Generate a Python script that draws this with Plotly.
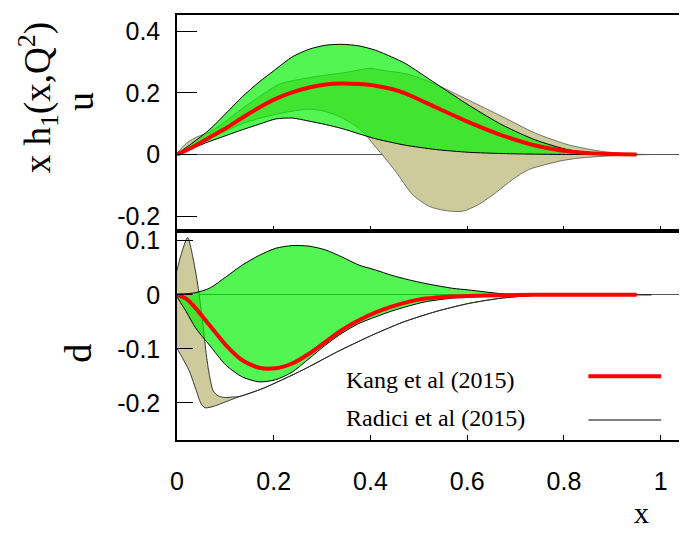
import plotly.graph_objects as go

# ---------------- data ----------------
# u quark, Kang et al (2015): band + central curve
kang_u_x = [0, 0.03, 0.067, 0.101, 0.135, 0.17, 0.204, 0.238, 0.273, 0.307, 0.341, 0.376,
            0.41, 0.444, 0.472, 0.535, 0.603, 0.672, 0.741, 0.81, 0.878, 0.95]
kang_u_hi = [0, 0.035, 0.08, 0.133, 0.187, 0.235, 0.276, 0.316, 0.341, 0.354, 0.357, 0.352,
             0.338, 0.316, 0.295, 0.23, 0.16, 0.096, 0.047, 0.015, 0.004, 0]
kang_u_mid = [0, 0.022, 0.055, 0.085, 0.119, 0.152, 0.18, 0.201, 0.217, 0.227, 0.23, 0.228,
              0.223, 0.212, 0.198, 0.153, 0.105, 0.062, 0.029, 0.01, 0.002, 0]
kang_u_lo = [0, 0.019, 0.042, 0.061, 0.08, 0.098, 0.115, 0.118, 0.108, 0.097, 0.084, 0.067,
             0.051, 0.039, 0.03, 0.016, 0.007, 0.003, 0.001, 0, 0, 0]

# u quark, Radici et al (2015): band
radici_u_hi_x = [0, 0.019, 0.04, 0.067, 0.101, 0.135, 0.17, 0.212, 0.263, 0.307, 0.35, 0.396,
                 0.437, 0.472, 0.528, 0.603, 0.672, 0.741, 0.81, 0.878, 0.947, 0.981]
radici_u_hi = [0, 0.036, 0.056, 0.072, 0.108, 0.149, 0.187, 0.228, 0.246, 0.257, 0.266, 0.279,
               0.27, 0.262, 0.232, 0.176, 0.123, 0.069, 0.031, 0.01, 0.001, 0]
radici_u_lo_x = [0, 0.067, 0.135, 0.204, 0.273, 0.307, 0.341, 0.376, 0.396, 0.41, 0.424, 0.452,
                 0.487, 0.521, 0.555, 0.59, 0.624, 0.658, 0.693, 0.727, 0.761, 0.796, 0.83,
                 0.9, 0.981]
radici_u_lo = [0, 0.05, 0.1, 0.13, 0.147, 0.139, 0.119, 0.085, 0.053, 0.025, 0.0, -0.055,
               -0.13, -0.168, -0.182, -0.184, -0.162, -0.125, -0.082, -0.049, -0.033, -0.02,
               -0.012, -0.004, 0]

# d quark, Kang et al (2015)
kang_d_x = [0, 0.019, 0.039, 0.067, 0.101, 0.135, 0.17, 0.204, 0.238, 0.273, 0.307, 0.341,
            0.376, 0.41, 0.444, 0.478, 0.513, 0.57, 0.603, 0.672, 0.74, 0.8, 0.95]
kang_d_hi = [0, 0.002, 0.004, 0.012, 0.033, 0.055, 0.073, 0.086, 0.091, 0.09, 0.083, 0.07,
             0.055, 0.046, 0.036, 0.028, 0.021, 0.012, 0.009, 0.002, 0, 0, 0]
kang_d_mid = [0, -0.007, -0.025, -0.056, -0.093, -0.121, -0.135, -0.136, -0.127, -0.109,
              -0.087, -0.065, -0.047, -0.033, -0.022, -0.013, -0.007, -0.003, -0.002, -0.001,
              0, 0, 0]
kang_d_lo = [0, -0.031, -0.062, -0.093, -0.13, -0.152, -0.161, -0.157, -0.143, -0.118, -0.093,
             -0.071, -0.053, -0.041, -0.03, -0.021, -0.013, -0.006, -0.004, -0.001, 0, 0, 0]

# d quark, Radici et al (2015)
radici_d_hi_x = [0, 0.008, 0.022, 0.032, 0.043, 0.053, 0.06, 0.067, 0.075, 0.085, 0.1, 0.115,
                 0.13, 0.178, 0.26, 0.33, 0.4, 0.466, 0.535, 0.603, 0.672, 0.741, 0.8, 0.981]
radici_d_hi = [0.045, 0.073, 0.106, 0.073, 0.018, -0.05, -0.106, -0.149, -0.178, -0.187, -0.19,
               -0.189, -0.188, -0.173, -0.139, -0.106, -0.076, -0.051, -0.031, -0.016, -0.006,
               -0.001, 0, 0]
radici_d_lo_x = [0, 0.012, 0.025, 0.039, 0.049, 0.058, 0.08, 0.1, 0.13, 0.178, 0.26, 0.33, 0.4,
                 0.466, 0.535, 0.603, 0.672, 0.741, 0.8, 0.981]
radici_d_lo = [-0.099, -0.118, -0.14, -0.175, -0.2, -0.209, -0.205, -0.198, -0.188, -0.173,
               -0.139, -0.106, -0.076, -0.051, -0.031, -0.016, -0.006, -0.001, 0, 0]

x_ticks = [0, 0.2, 0.4, 0.6, 0.8, 1]
x_ticktext = ["0", "0.2", "0.4", "0.6", "0.8", "1"]
u_ticks = [-0.2, 0, 0.2, 0.4]
u_ticktext = ["-0.2", "0", "0.2", "0.4"]
d_ticks = [-0.2, -0.1, 0, 0.1]
d_ticktext = ["-0.2", "-0.1", "0", "0.1"]
legend_labels = ["Kang et al (2015)", "Radici et al (2015)"]

# ---------------- styles ----------------
TAN = "#CDCB9C"
GREEN = "rgba(0,240,0,0.68)"
RED = "#FF0000"
SERIF = "Liberation Serif, Times New Roman, serif"
SANS = "Liberation Sans, Arial, sans-serif"

# the page body has an 8px margin; shift the figure so the plot lands where it should
OFF = 8
W, H = 687 - OFF, 535 - OFF


def band(xhi, yhi, xlo, ylo, fill, lc, lw, xa, ya):
    return go.Scatter(
        x=list(xhi) + list(xlo)[::-1],
        y=list(yhi) + list(ylo)[::-1],
        fill="toself", fillcolor=fill,
        line=dict(color=lc, width=lw, shape="spline", smoothing=0.7),
        mode="lines", xaxis=xa, yaxis=ya, hoverinfo="skip", showlegend=False)


def central(x, y, xa, ya):
    return go.Scatter(x=x, y=y, mode="lines",
                      line=dict(color=RED, width=4, shape="spline", smoothing=0.7),
                      xaxis=xa, yaxis=ya, hoverinfo="skip", showlegend=False)


fig = go.Figure()
# top panel (u)
fig.add_trace(band(radici_u_hi_x, radici_u_hi, radici_u_lo_x, radici_u_lo, TAN, "#555555", 0.8, "x2", "y2"))
fig.add_trace(band(kang_u_x, kang_u_hi, kang_u_x, kang_u_lo, GREEN, "black", 1, "x2", "y2"))
fig.add_trace(central(kang_u_x, kang_u_mid, "x2", "y2"))
# bottom panel (d)
fig.add_trace(band(radici_d_hi_x, radici_d_hi, radici_d_lo_x, radici_d_lo, TAN, "#222222", 0.9, "x", "y"))
fig.add_trace(band(kang_d_x, kang_d_hi, kang_d_x, kang_d_lo, GREEN, "black", 1, "x", "y"))
fig.add_trace(central(kang_d_x, kang_d_mid, "x", "y"))

split = 210 / 427

axis_common = dict(showline=True, linecolor="black", linewidth=1.5, mirror=True,
                   ticks="inside", tickcolor="black", tickwidth=1.3, showgrid=False,
                   layer="above traces",
                   tickfont=dict(family=SANS, size=25, color="black"))

fig.update_layout(
    width=W, height=H,
    margin=dict(l=177 - OFF, r=3, t=13 - OFF, b=95, pad=0),
    paper_bgcolor="white", plot_bgcolor="white",
    showlegend=False,
    xaxis=dict(axis_common, range=[0, 1.044], domain=[0, 1], anchor="y",
               tickvals=x_ticks, ticktext=x_ticktext, ticklen=5, ticklabelstandoff=18),
    xaxis2=dict(axis_common, range=[0, 1.044], domain=[0, 1], anchor="y2", matches="x",
                tickvals=x_ticks, ticklen=5, showticklabels=False),
    yaxis=dict(axis_common, range=[-0.2685, 0.118], domain=[0, split], anchor="x",
               tickvals=d_ticks, ticktext=d_ticktext, ticklen=16, ticklabelstandoff=10,
               zeroline=True, zerolinecolor="#555555", zerolinewidth=1),
    yaxis2=dict(axis_common, range=[-0.248, 0.452], domain=[split, 1], anchor="x2",
                tickvals=u_ticks, ticktext=u_ticktext, ticklen=20, ticklabelstandoff=10,
                zeroline=True, zerolinecolor="#555555", zerolinewidth=1),
)

px_w, px_h = 507, 427


def px(xp):
    return (xp - 177) / px_w


def py(yp):
    return (440 - yp) / px_h


ann = [
    dict(text="x h<sub>1</sub>(x,Q<sup>2</sup>)", x=px(37), y=py(96), textangle=-90,
         font=dict(family=SERIF, size=37, color="black")),
    dict(text="u", x=px(79), y=py(100), textangle=-90,
         font=dict(family=SERIF, size=38, color="black")),
    dict(text="d", x=px(78), y=py(353), textangle=-90,
         font=dict(family=SERIF, size=38, color="black")),
    dict(text="x", x=px(643), y=py(513),
         font=dict(family=SERIF, size=30, color="black")),
]
for a in ann:
    a.update(xref="paper", yref="paper", showarrow=False, xanchor="center", yanchor="middle")
    fig.add_annotation(**a)

# legend (text left, sample line right)
for label, ty, color, lw, ly in [(legend_labels[0], 380, RED, 4, 376),
                                 (legend_labels[1], 418, "#555555", 1.5, 420)]:
    fig.add_annotation(text=label, x=px(345), y=py(ty), xref="paper", yref="paper",
                       xanchor="left", yanchor="middle", showarrow=False,
                       font=dict(family=SERIF, size=24, color="black"))
    fig.add_shape(type="line", xref="paper", yref="paper", x0=px(590), x1=px(663),
                  y0=py(ly), y1=py(ly), line=dict(color=color, width=lw))

fig.write_html("out.html")
